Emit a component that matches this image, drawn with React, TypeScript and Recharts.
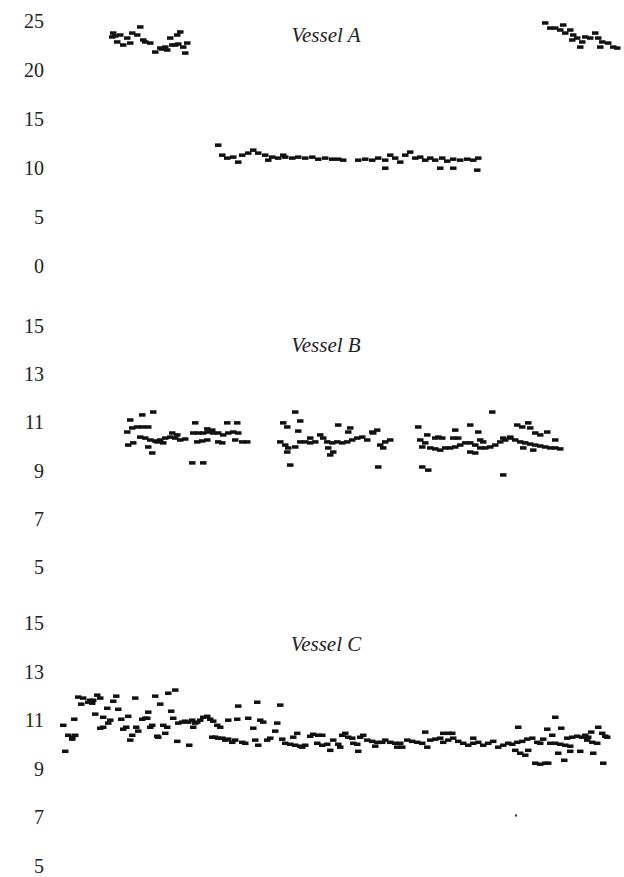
import React from "react"
import { ScatterChart, Scatter, XAxis, YAxis } from "recharts"

// [t, value] readings per vessel (t = sample position along the run)
const vesselA: [number, number][] = [
  [62, 23.37], [63, 23.77], [65, 23.47], [67, 22.86], [70, 23.57], [73, 22.55], [77, 23.26], [80, 22.75],
  [82, 23.77], [87, 23.57], [90, 24.39], [93, 23.06], [95, 22.86], [100, 22.75], [105, 21.83], [110, 22.24],
  [112, 22.14], [115, 22.34], [117, 22.04], [120, 23.26], [122, 22.55], [125, 22.55], [127, 23.57], [128, 22.65],
  [130, 23.88], [133, 22.34], [135, 21.73], [137, 22.75],
  [168, 12.33], [172, 11.31], [177, 11.01], [183, 11.11], [188, 10.6], [192, 11.31], [198, 11.52], [203, 11.82],
  [208, 11.52], [215, 11.31], [218, 10.8], [222, 11.11], [228, 11.01], [233, 11.31], [235, 11.11], [242, 11.01],
  [248, 11.11], [255, 11.01], [262, 11.11], [268, 10.9], [275, 11.01], [282, 10.9], [288, 10.9], [293, 10.8],
  [308, 10.8], [315, 10.9], [322, 10.8], [328, 11.01], [335, 10.8], [340, 11.31], [345, 11.01], [350, 10.6],
  [355, 11.31], [360, 11.62], [365, 11.01], [370, 11.11], [375, 10.8], [380, 11.01], [385, 10.8], [392, 11.01],
  [397, 10.7], [403, 10.9], [410, 10.8], [417, 10.9], [423, 10.8], [428, 11.01], [335, 9.98], [390, 9.98],
  [403, 9.98], [427, 9.78],
  [495, 24.8], [500, 24.28], [505, 24.28], [510, 24.08], [513, 24.59], [515, 23.77], [520, 24.08], [522, 23.06],
  [523, 23.57], [527, 23.26], [530, 22.34], [532, 22.86], [535, 23.37], [540, 23.26], [545, 23.77], [548, 23.26],
  [550, 22.34], [552, 22.86], [558, 22.75], [563, 22.34], [567, 22.24],
]

const vesselB: [number, number][] = [
  [77, 10.6], [78, 10.06], [80, 11.1], [82, 10.77], [83, 10.15], [87, 10.81], [90, 10.39], [92, 11.31],
  [92, 10.81], [95, 10.35], [98, 10.81], [98, 9.98], [100, 10.27], [102, 9.73], [103, 11.43], [105, 10.23],
  [107, 10.19], [110, 10.27], [113, 10.15], [115, 10.35], [120, 10.39], [122, 10.56], [125, 10.35], [127, 10.48],
  [130, 10.27], [135, 10.31], [142, 9.32], [143, 10.56], [145, 10.98], [147, 10.19], [148, 10.56], [152, 10.23],
  [153, 10.56], [153, 9.32], [157, 10.27], [157, 10.73], [158, 10.6], [162, 10.68], [163, 10.56], [168, 10.56],
  [168, 10.19], [172, 10.15], [173, 10.48], [177, 10.98], [178, 10.56], [183, 10.6], [185, 10.27], [187, 10.98],
  [188, 10.56], [192, 10.19], [197, 10.19],
  [230, 10.19], [233, 10.98], [235, 10.06], [237, 10.81], [237, 9.77], [238, 9.94], [240, 9.23], [245, 11.43],
  [245, 9.98], [248, 10.64], [250, 11.06], [250, 10.19], [255, 10.19], [260, 10.15], [260, 10.35], [265, 10.19],
  [270, 10.48], [273, 10.35], [277, 10.19], [278, 9.94], [280, 9.65], [282, 10.15], [283, 9.77], [287, 10.19],
  [288, 10.89], [292, 10.15], [297, 10.19], [298, 10.6], [300, 10.77], [302, 10.27], [307, 10.35], [312, 10.39],
  [317, 10.27], [322, 10.6], [323, 10.56], [327, 10.68], [328, 9.15], [330, 10.06], [333, 9.94], [335, 10.19],
  [340, 10.27],
  [368, 10.81], [370, 10.27], [372, 9.98], [372, 9.15], [375, 10.15], [377, 10.48], [378, 9.02], [380, 9.94],
  [385, 10.35], [385, 9.9], [388, 10.39], [390, 9.85], [392, 10.35], [395, 9.94], [400, 9.94], [403, 10.35],
  [405, 10.68], [405, 9.98], [408, 10.35], [410, 10.06], [415, 10.15], [420, 10.15], [420, 10.89], [420, 9.77],
  [425, 10.06], [425, 9.73], [428, 10.6], [430, 9.94], [430, 10.27], [433, 10.19], [435, 9.94], [440, 9.98],
  [442, 11.43], [445, 10.06], [450, 10.19], [453, 10.35], [453, 8.82], [455, 10.27], [460, 10.35], [460, 10.39],
  [465, 10.27], [467, 10.89], [470, 10.19], [472, 10.81], [473, 9.94], [475, 10.15], [478, 10.98], [480, 10.1],
  [480, 10.77], [483, 9.85], [485, 10.06], [485, 10.56], [490, 10.02], [490, 10.48], [495, 9.98], [497, 10.6],
  [500, 9.94], [505, 9.94], [505, 10.27], [510, 9.9],
]

const vesselC: [number, number][] = [
  [13, 10.79], [15, 9.72], [18, 10.38], [22, 10.3], [22, 10.22], [24, 11.04], [25, 10.38], [28, 11.95],
  [31, 11.66], [33, 11.91], [38, 11.74], [40, 11.82], [42, 11.7], [43, 11.82], [45, 11.25], [47, 12.03],
  [50, 11.91], [50, 10.67], [53, 11.12], [53, 10.71], [57, 11.49], [58, 10.88], [60, 11.0], [63, 11.78],
  [66, 11.99], [68, 11.45], [71, 11.04], [73, 10.63], [76, 10.71], [78, 11.16], [80, 10.18], [82, 10.38],
  [85, 11.91], [86, 10.71], [88, 10.55], [92, 11.04], [95, 11.08], [97, 11.08], [98, 11.33], [100, 10.71],
  [102, 10.79], [105, 11.99], [107, 10.34], [108, 10.3], [110, 11.66], [113, 10.79], [115, 10.46], [117, 10.71],
  [118, 12.11], [121, 11.37], [123, 11.08], [125, 12.24], [127, 10.13], [128, 10.88], [132, 10.92], [135, 10.96],
  [138, 10.92], [139, 9.97], [142, 11.0], [143, 10.71], [145, 10.88], [147, 10.92], [150, 11.0], [153, 11.12],
  [157, 11.16], [160, 11.04], [162, 10.3], [163, 10.96], [165, 10.3], [167, 10.79], [168, 10.26], [170, 10.71],
  [172, 10.26], [175, 10.18], [178, 10.22], [178, 11.0], [182, 10.09], [185, 10.18], [187, 11.04], [188, 11.58],
  [192, 10.09], [195, 10.05], [198, 11.08],
  [203, 10.67], [205, 10.18], [207, 11.74], [208, 9.97], [210, 11.0], [213, 10.92], [217, 10.18], [220, 10.26],
  [225, 10.55], [227, 10.88], [230, 11.62], [232, 10.22], [235, 10.05], [240, 10.01], [243, 10.3], [245, 9.97],
  [247, 10.46], [250, 9.93], [252, 9.89], [255, 9.97], [260, 10.34], [263, 10.42], [267, 10.05], [268, 10.38],
  [272, 10.38], [272, 9.97], [277, 10.01], [280, 9.76], [283, 10.18], [288, 10.01], [290, 9.89], [292, 10.38],
  [295, 10.46], [298, 10.3], [302, 10.26], [303, 10.05], [307, 10.01], [308, 9.72], [310, 10.3], [313, 10.38],
  [317, 10.18], [322, 10.13], [325, 9.93], [327, 10.09], [332, 10.09], [335, 10.18], [340, 10.09], [345, 10.05],
  [347, 9.89], [350, 10.05], [352, 9.89], [357, 10.18], [362, 10.13], [367, 10.09], [372, 10.05], [375, 10.51],
  [377, 9.89], [380, 10.18], [385, 10.22], [390, 10.26], [393, 10.46], [393, 10.09], [398, 10.46], [398, 10.18],
  [402, 10.46], [403, 10.26], [408, 10.13], [413, 10.05], [418, 9.97], [423, 10.05], [423, 10.26], [428, 10.09],
  [433, 9.97], [438, 10.05], [443, 10.13], [448, 9.89], [453, 9.97], [458, 10.05], [462, 10.01], [465, 9.76],
  [467, 10.09], [468, 10.71], [470, 9.64], [472, 10.13], [475, 9.56], [477, 10.22], [478, 9.76], [482, 10.26],
  [485, 9.23], [487, 10.09], [490, 10.05], [490, 9.19], [493, 10.22], [495, 9.23], [497, 10.63], [498, 9.23],
  [500, 10.05], [502, 10.38], [505, 10.05], [505, 11.12], [508, 9.64], [510, 10.01], [511, 10.67], [514, 9.35],
  [515, 9.97], [517, 10.26], [520, 9.93], [520, 9.72], [522, 10.3], [527, 10.34], [530, 9.72], [532, 10.3],
  [535, 10.38], [537, 10.18], [538, 10.3], [541, 10.51], [542, 10.09], [543, 9.64], [547, 10.05], [548, 10.71],
  [552, 10.46], [553, 9.23], [555, 10.34], [557, 10.3],
]

const vesselCSpeck: [number, number][] = [[466, 7.08]]

const ticksA = [0, 5, 10, 15, 20, 25]
const ticksBC = [5, 7, 9, 11, 13, 15]

const serif = "Liberation Serif"

const toRows = (pts: [number, number][]) => pts.map(([t, v]) => ({ t, v }))

const Dash = (props: any) => (
  <rect x={props.cx - 3} y={props.cy - 1.75} width={6.5} height={3.5} fill="#111" />
)
const Speck = (props: any) => (
  <rect x={props.cx - 1} y={props.cy - 1} width={2} height={2} fill="#333" />
)

// plain serif tick text, right-aligned against the plot
const SerifTick = ({ x, y, payload }: any) => (
  <text x={x} y={y} dy="0.35em" textAnchor="end" fontFamily={serif} fontSize={20} fill="#222">
    {payload.value}
  </text>
)

function Panel({ top, height, margin, domain, ticks, points, speck, title, titleTop }: any) {
  return (
    <>
      <div style={{ position: "absolute", left: 0, top }}>
        <ScatterChart width={624} height={height} margin={margin}>
          <XAxis type="number" dataKey="t" domain={[0, 570]} hide />
          <YAxis
            type="number"
            dataKey="v"
            domain={domain}
            ticks={ticks}
            width={50}
            axisLine={false}
            tickLine={false}
            tickSize={0}
            tickMargin={6}
            interval={0}
            tick={<SerifTick />}
          />
          <Scatter data={toRows(points)} shape={Dash} isAnimationActive={false} />
          {speck && <Scatter data={toRows(speck)} shape={Speck} isAnimationActive={false} />}
        </ScatterChart>
      </div>
      <div
        style={{
          position: "absolute",
          left: 266,
          width: 120,
          top: titleTop,
          textAlign: "center",
          fontFamily: serif,
          fontStyle: "italic",
          fontSize: 21,
          lineHeight: "21px",
          color: "#222",
        }}
      >
        {title}
      </div>
    </>
  )
}

export default function App() {
  return (
    <div style={{ position: "absolute", left: 0, top: 0, width: 624, height: 877, background: "#fff" }}>
      <Panel top={0} height={290} margin={{ top: 21, right: 4, bottom: 24, left: 0 }} domain={[0, 25]}
        ticks={ticksA} points={vesselA} title="Vessel A" titleTop={25} />
      <Panel top={290} height={290} margin={{ top: 36, right: 4, bottom: 13, left: 0 }} domain={[5, 15]}
        ticks={ticksBC} points={vesselB} title="Vessel B" titleTop={335} />
      <Panel top={580} height={297} margin={{ top: 43, right: 4, bottom: 11, left: 0 }} domain={[5, 15]}
        ticks={ticksBC} points={vesselC} speck={vesselCSpeck} title="Vessel C" titleTop={634} />
    </div>
  )
}
